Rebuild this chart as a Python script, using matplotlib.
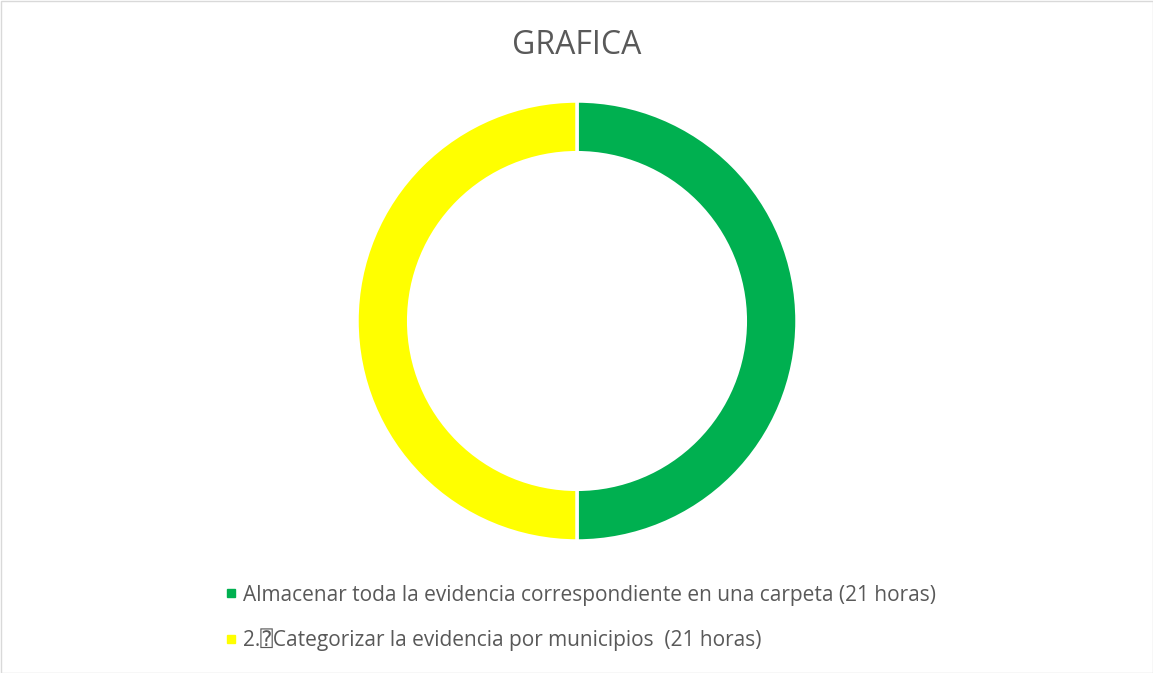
import matplotlib.pyplot as plt
from matplotlib.lines import Line2D

labels = ["Almacenar toda la evidencia correspondiente en una carpeta (21 horas)",
          "2.\u2370Categorizar la evidencia por municipios  (21 horas)"]
horas = [21, 21]
colores = ["#00B050", "#FFFF00"]

plt.rcParams['font.family'] = ['Open Sans', 'DejaVu Sans', 'DejaVu Sans Mono']

fig = plt.figure(figsize=(11.53, 6.73), dpi=100)

# donut
pax = fig.add_axes([(577 - 220) / 1153, 1 - (321 + 220) / 673, 440 / 1153, 440 / 673])
pax.pie(horas, colors=colores, startangle=90, counterclock=False, radius=1,
        wedgeprops=dict(width=0.235, edgecolor='white', linewidth=2.5))
pax.set_xlim(-1, 1)
pax.set_ylim(-1, 1)
pax.set_aspect('equal')

# border
fig.patches.append(plt.Rectangle((0.5 / 1153, 0.5 / 673), 1 - 1 / 1153, 1 - 1 / 673,
                                 transform=fig.transFigure, fill=False,
                                 edgecolor='#D9D9D9', linewidth=1))

fig.text(577 / 1153, 1 - 46 / 673, "GRAFICA", ha='center', va='center',
         fontsize=23, color='#595959')

handles = [Line2D([], [], marker='s', linestyle='none', markersize=6,
                  markerfacecolor=c, markeredgecolor=c) for c in colores]
fig.legend(handles, labels, loc='upper left', bbox_to_anchor=(209 / 1153, 1 - 568 / 673),
           frameon=False, fontsize=15, labelcolor='#595959', handlelength=0.5,
           handletextpad=0.35, labelspacing=1.1, borderpad=0.3)

fig.savefig("out.png", dpi=100)
